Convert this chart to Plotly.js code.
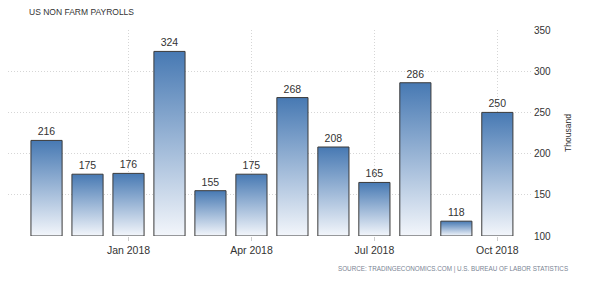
<!DOCTYPE html>
<html>
<head>
<meta charset="utf-8">
<script src="https://cdn.plot.ly/plotly-3.0.1.min.js"></script>
<style>
html,body{margin:0;padding:0;background:#fff;}
#chart{width:598px;height:281px;}
</style>
</head>
<body>
<div id="chart"></div>
<script>
const months = ['Nov 2017','Dec 2017','Jan 2018','Feb 2018','Mar 2018','Apr 2018','May 2018','Jun 2018','Jul 2018','Aug 2018','Sep 2018','Oct 2018'];
const payrolls = [216, 175, 176, 324, 155, 175, 268, 208, 165, 286, 118, 250];
const tickMonths = ['Jan 2018','Apr 2018','Jul 2018','Oct 2018'];
const yTicks = [100, 150, 200, 250, 300, 350];
const baseValue = 100;

const FONT = 'Liberation Sans, Arial, sans-serif';

const trace = {
  type: 'bar',
  x: months,
  y: payrolls.map(v => v - baseValue),
  base: baseValue,
  text: payrolls.map(String),
  textposition: 'outside',
  textfont: {family: FONT, size: 10.5, color: '#333'},
  cliponaxis: false,
  marker: {color: '#4a80b8', line: {color: '#3a3a3a', width: 1}},
  hoverinfo: 'none'
};

const layout = {
  width: 598, height: 281,
  margin: {l: 8, r: 65, t: 30, b: 45},
  paper_bgcolor: '#fff', plot_bgcolor: '#fff',
  showlegend: false,
  bargap: 0.24,
  xaxis: {
    type: 'category',
    range: [-0.94, 11.87],
    tickvals: tickMonths,
    ticktext: tickMonths,
    showgrid: true, gridcolor: '#d6d6d6', griddash: '1px,2px', gridwidth: 1,
    ticks: 'outside', ticklen: 4, tickcolor: '#cccccc',
    showline: false, zeroline: false,
    tickfont: {family: FONT, size: 10.5, color: '#333'}
  },
  yaxis: {
    side: 'right',
    range: [100, 350],
    tickvals: yTicks,
    showgrid: true, gridcolor: '#d6d6d6', griddash: '1px,2px', gridwidth: 1,
    zeroline: false, showline: false,
    ticks: '',
    tickfont: {family: FONT, size: 10, color: '#333'},
    title: {text: 'Thousand', font: {family: FONT, size: 8.5, color: '#333'}, standoff: 14}
  },
  annotations: [
    {text: 'US NON FARM PAYROLLS', xref: 'paper', yref: 'paper', x: 0.036, y: 1.087,
     xanchor: 'left', yanchor: 'middle', showarrow: false,
     font: {family: FONT, size: 8.5, color: '#333'}},
    {text: 'SOURCE: TRADINGECONOMICS.COM | U.S. BUREAU OF LABOR STATISTICS', xref: 'paper', yref: 'paper',
     x: 1.07, y: -0.16, xanchor: 'right', yanchor: 'middle', showarrow: false,
     font: {family: FONT, size: 6.3, color: '#7a8494'}}
  ]
};

Plotly.newPlot('chart', [trace], layout, {displayModeBar: false, staticPlot: true}).then(function(gd){
  const svg = gd.querySelector('svg.main-svg');
  const ns = 'http://www.w3.org/2000/svg';
  let defs = svg.querySelector('defs');
  if (!defs) { defs = document.createElementNS(ns, 'defs'); svg.insertBefore(defs, svg.firstChild); }
  const grad = document.createElementNS(ns, 'linearGradient');
  grad.setAttribute('id', 'barGrad');
  grad.setAttribute('x1', '0'); grad.setAttribute('y1', '0');
  grad.setAttribute('x2', '0'); grad.setAttribute('y2', '1');
  [['0%', '#4779b3'], ['100%', '#f3f6fb']].forEach(function(s){
    const st = document.createElementNS(ns, 'stop');
    st.setAttribute('offset', s[0]); st.setAttribute('stop-color', s[1]);
    grad.appendChild(st);
  });
  defs.appendChild(grad);
  gd.querySelectorAll('.barlayer .point path').forEach(function(p){
    p.style.fill = 'url(#barGrad)';
  });
});
</script>
</body>
</html>
